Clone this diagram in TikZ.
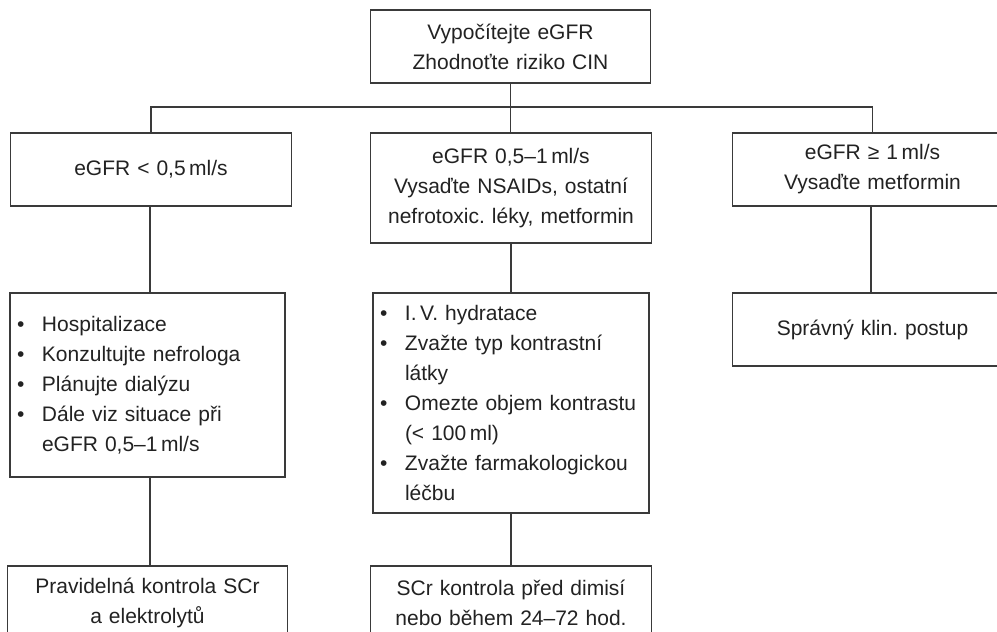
\documentclass[tikz,border=0pt]{standalone}
\usepackage{fontspec}
\setmainfont{Liberation Sans}
\frenchspacing
\definecolor{linec}{HTML}{3A3A3A}
\definecolor{textc}{HTML}{222222}
\newlength\bulw
\setlength\bulw{18.75pt}
\newcommand\bul{\makebox[\bulw][l]{•}}
\newcommand\ind{\hspace*{\bulw}}
\tikzset{
  box/.style={draw=linec, line width=1.3pt, text=textc, inner ysep=0pt,
    font=\fontsize{15.75}{22.5}\selectfont},
  cbox/.style={box, align=center, inner xsep=7.5pt},
  lbox/.style={box, align=left, inner xsep=5.25pt},
  conn/.style={draw=linec, line width=1.3pt}
}
\begin{document}
\begin{tikzpicture}[x=0.75pt,y=-0.75pt]
\useasboundingbox (0,0) rectangle (997,632);
\fill[white] (0,0) rectangle (997,632);
\clip (0,0) rectangle (997,632);

\node[cbox, minimum width=275*0.75pt, minimum height=73*0.75pt, text width=260*0.75pt] (top) at (510.5,46.5)
  {Vypočítejte eGFR\\Zhodnoťte riziko CIN};

\node[cbox, minimum width=276*0.75pt, minimum height=73*0.75pt, text width=261*0.75pt] (l1) at (151,169.5)
  {eGFR < 0,5\,ml/s};
\node[cbox, minimum width=276*0.75pt, minimum height=110*0.75pt, text width=261*0.75pt] (m1) at (511,188)
  {eGFR 0,5–1\,ml/s\\Vysaďte NSAIDs, ostatní\\nefrotoxic. léky, metformin};
\node[cbox, minimum width=275*0.75pt, minimum height=73*0.75pt, text width=260*0.75pt] (r1) at (872.5,169.5)
  {eGFR ≥ 1\,ml/s\\Vysaďte metformin};

\node[lbox, minimum width=275*0.75pt, minimum height=184*0.75pt, text width=261*0.75pt] (l2) at (147.5,385)
  {\bul Hospitalizace\\\bul Konzultujte nefrologa\\\bul Plánujte dialýzu\\\bul Dále viz situace při\\\ind eGFR 0,5–1\,ml/s};
\node[lbox, minimum width=276*0.75pt, minimum height=220*0.75pt, text width=262*0.75pt] (m2) at (511,403)
  {\bul I.\,V. hydratace\\\bul Zvažte typ kontrastní\\\ind látky\\\bul Omezte objem kontrastu\\\ind (< 100\,ml)\\\bul Zvažte farmakologickou\\\ind léčbu};
\node[cbox, minimum width=275*0.75pt, minimum height=73*0.75pt, text width=260*0.75pt] (r2) at (872.5,329.5)
  {Správný klin. postup};

\node[cbox, minimum width=275*0.75pt, minimum height=73*0.75pt, text width=260*0.75pt] (l3) at (147.5,602.5)
  {Pravidelná kontrola SCr\\a elektrolytů};
\node[cbox, minimum width=276*0.75pt, minimum height=73*0.75pt, text width=261*0.75pt] (m3) at (511,602.5)
  {SCr kontrola před dimisí\\nebo během 24–72 hod.};

\coordinate (bus) at (511,107);
\draw[conn] (top.south) -- (top.south |- m1.north);
\draw[conn] (l1.north) |- (bus) -| (r1.north);
\draw[conn] ([xshift=-0.75pt]l1.south) -- ([xshift=-0.75pt]l1.south |- l2.north);
\draw[conn] ([xshift=-0.75pt]l1.south |- l2.south) -- ([xshift=-0.75pt]l1.south |- l3.north);
\draw[conn] (m1.south) -- (m2.north);
\draw[conn] (m2.south) -- (m3.north);
\draw[conn] ([xshift=-1pt]r1.south) -- ([xshift=-1pt]r1.south |- r2.north);
\end{tikzpicture}
\end{document}
